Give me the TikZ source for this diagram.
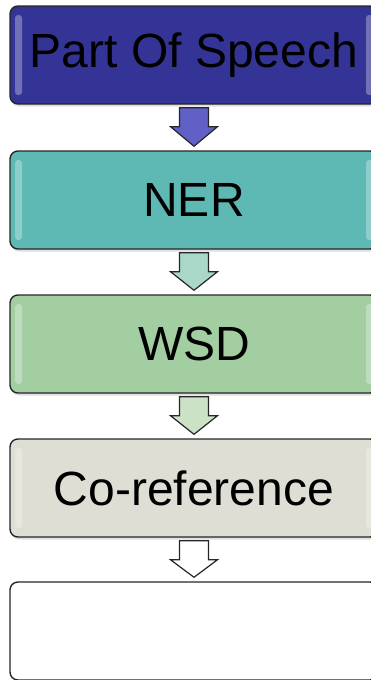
\documentclass[tikz,border=0pt]{standalone}
\usepackage{fontspec}
\setmainfont{Liberation Sans}
\usetikzlibrary{calc,shadows}

\definecolor{posblue}{RGB}{52,52,150}
\definecolor{nerteal}{RGB}{94,184,180}
\definecolor{wsdgreen}{RGB}{162,206,162}
\definecolor{corefgray}{RGB}{222,222,212}
\definecolor{arrblue}{RGB}{96,96,198}
\definecolor{arrteal}{RGB}{170,216,200}
\definecolor{arrgreen}{RGB}{204,226,198}
\definecolor{arrgray}{RGB}{234,238,226}

\begin{document}
\begin{tikzpicture}[
  stage/.style={draw=black!85, line width=1.4pt, rounded corners=8pt,
                minimum width=368pt, minimum height=98pt, inner sep=0pt,
                font=\fontsize{48}{56}\selectfont,
                drop shadow={shadow xshift=1pt, shadow yshift=-2.5pt, opacity=0.25},
                path picture={
                  \fill[white, opacity=0.3, rounded corners=3pt]
                    ([xshift=5pt,yshift=-9pt]path picture bounding box.north west) rectangle
                    ([xshift=12pt,yshift=9pt]path picture bounding box.south west);
                  \fill[white, opacity=0.3, rounded corners=3pt]
                    ([xshift=-5pt,yshift=-9pt]path picture bounding box.north east) rectangle
                    ([xshift=-12pt,yshift=9pt]path picture bounding box.south east);
                }},
  plain/.style={draw=black!85, line width=1.4pt, rounded corners=8pt,
                minimum width=368pt, minimum height=98pt, inner sep=0pt, fill=white},
  blockarrow/.style={draw=black!85, line width=1.2pt, line join=miter}
]
\useasboundingbox (0,0) rectangle (371pt,-680pt);

% pipeline stages
\node[stage, fill=posblue]   (pos)   at (194pt,-55pt)  {Part Of Speech};
\node[stage, fill=nerteal]   (ner)   at (194pt,-200pt) {NER};
\node[stage, fill=wsdgreen]  (wsd)   at (194pt,-344pt) {WSD};
\node[stage, fill=corefgray] (coref) at (194pt,-488pt) {Co-reference};
\node[plain]                 (out)   at (194pt,-631pt) {};

% block arrows between stages
\draw[blockarrow, fill=arrblue] ([xshift=-14.5pt,yshift=-3pt]pos.south) coordinate (t1)
  -- ++(29pt,0) -- ++(0,-19pt) -- ++(9pt,0) -- ([yshift=4pt]ner.north)
  -- ($(t1)+(-9pt,-19pt)$) -- ++(9pt,0) -- cycle;
\draw[blockarrow, fill=arrteal] ([xshift=-14.5pt,yshift=-3pt]ner.south) coordinate (t2)
  -- ++(29pt,0) -- ++(0,-19pt) -- ++(9pt,0) -- ([yshift=4pt]wsd.north)
  -- ($(t2)+(-9pt,-19pt)$) -- ++(9pt,0) -- cycle;
\draw[blockarrow, fill=arrgreen] ([xshift=-14.5pt,yshift=-3pt]wsd.south) coordinate (t3)
  -- ++(29pt,0) -- ++(0,-19pt) -- ++(9pt,0) -- ([yshift=4pt]coref.north)
  -- ($(t3)+(-9pt,-19pt)$) -- ++(9pt,0) -- cycle;
\draw[blockarrow, fill=white] ([xshift=-14.5pt,yshift=-3pt]coref.south) coordinate (t4)
  -- ++(29pt,0) -- ++(0,-19pt) -- ++(9pt,0) -- ([yshift=4pt]out.north)
  -- ($(t4)+(-9pt,-19pt)$) -- ++(9pt,0) -- cycle;

\end{tikzpicture}
\end{document}
